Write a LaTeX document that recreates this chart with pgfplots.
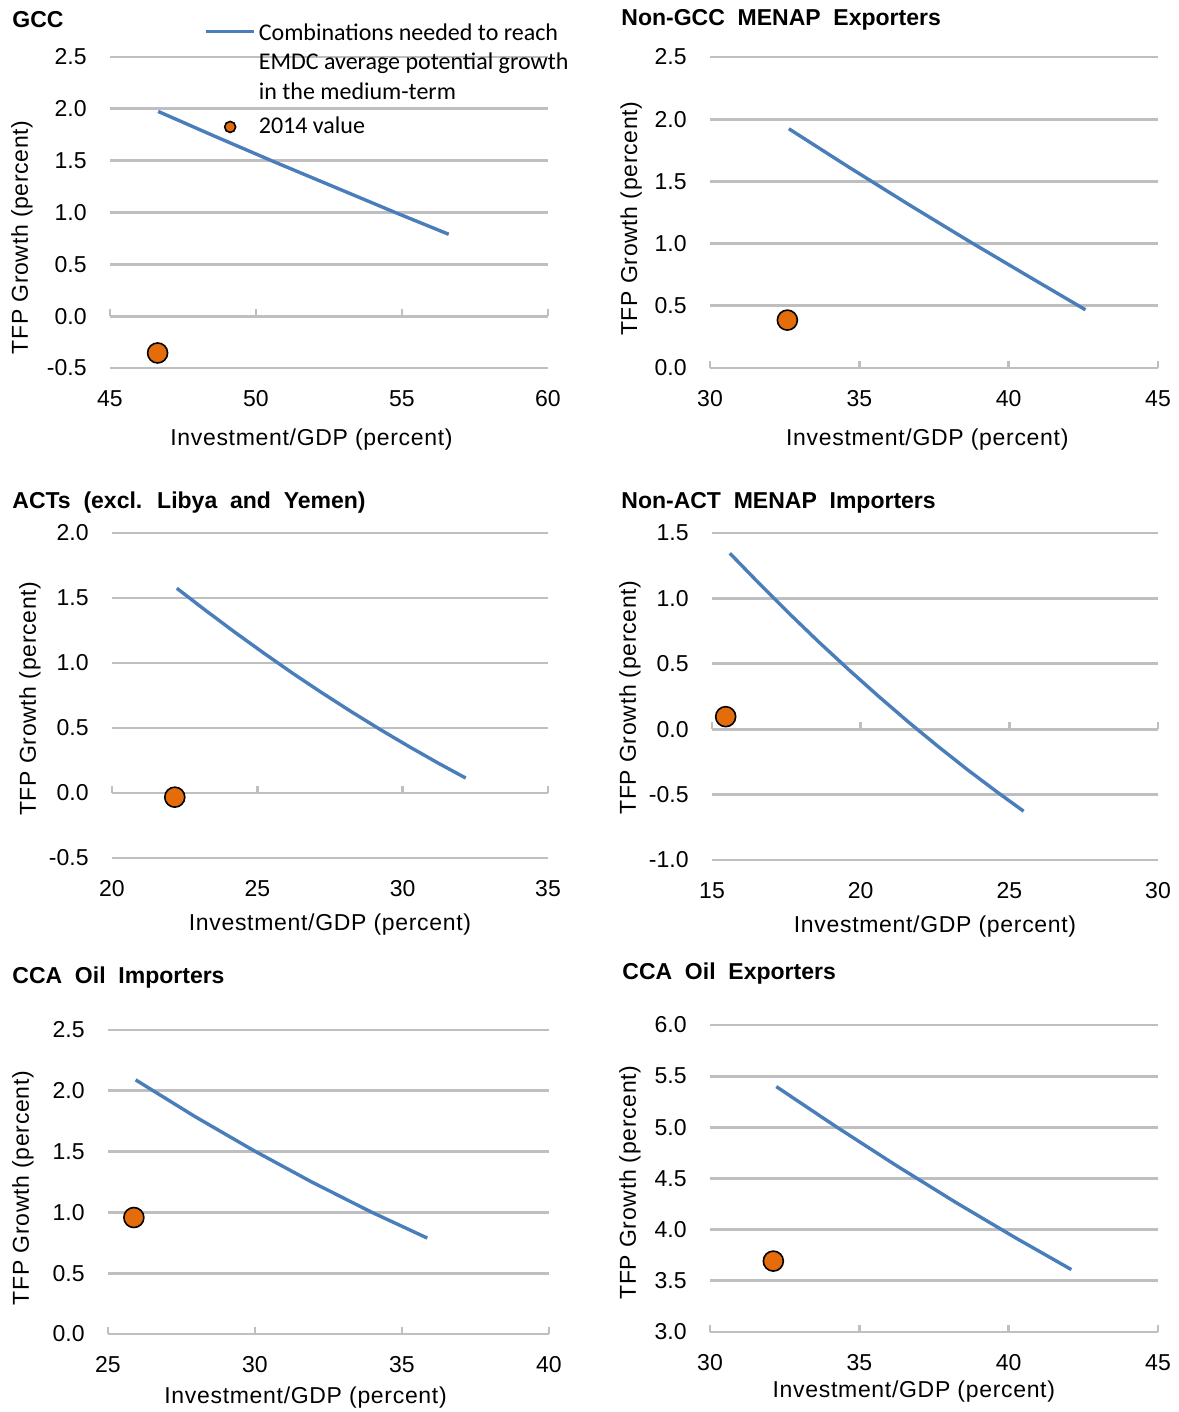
\documentclass[border=0pt]{standalone}
\usepackage{pgfplots}
\pgfplotsset{compat=1.18}
\usepackage{fontspec}
\setmainfont{Liberation Sans}
\newfontfamily\carlito{Carlito}
\newfontfamily\titlefont[WordSpace=2]{Liberation Sans}
\newfontfamily\labelfont[LetterSpace=3]{Liberation Sans}
\definecolor{gridgray}{HTML}{BFBFBF}
\definecolor{lineblue}{HTML}{4A7EBB}
\definecolor{dotorange}{HTML}{E46C0A}
\newcommand{\fs}{\fontsize{11.5}{13}\selectfont}
\newcommand{\ttl}{\titlefont\bfseries\fontsize{11.5}{13}\selectfont}
\tikzset{xax/.style={gridgray, line width=1.4pt}}
\pgfplotsset{
  panel/.style={
    scale only axis,
    axis line style={draw=none},
    major tick length=0pt,
    tick style={draw=none},
    ymajorgrids,
    grid style={line width=1.4pt, color=gridgray},
    clip=false,
    /pgf/number format/assume math mode=true,
    tick label style={font=\fs},
    label style={font=\labelfont\fontsize{11.5}{13}\selectfont},
    yticklabel style={inner sep=0pt, anchor=east, xshift=-11.5pt,
      /pgf/number format/fixed, /pgf/number format/fixed zerofill, /pgf/number format/precision=1},
    xticklabel style={inner sep=0pt, anchor=center, yshift=-15.5pt},
    xlabel={Investment/GDP (percent)},
    ylabel={TFP Growth (percent)},
  },
  curve/.style={color=lineblue, line width=1.7pt, no markers, line join=round,
    legend image code/.code={\draw[##1] (0pt,0pt) -- (24pt,0pt);}},
  dot/.style={only marks, mark=*, mark size=5pt, mark options={fill=dotorange, draw=black, line width=0.8pt},
    legend image code/.code={\draw[##1, mark size=2.75pt] plot coordinates {(12pt,0pt)};}},
}
\begin{document}
\begin{tikzpicture}
\useasboundingbox (0,0) rectangle (589pt,-706pt);

% titles
\node[anchor=west, font=\ttl, inner sep=0pt] at (6pt,-10pt) {GCC};
\node[anchor=west, font=\ttl, inner sep=0pt] at (310.5pt,-10pt) {Non-GCC MENAP Exporters};
\node[anchor=west, font=\ttl, inner sep=0pt] at (6pt,-251.5pt) {ACTs (excl. Libya and Yemen)};
\node[anchor=west, font=\ttl, inner sep=0pt] at (310.5pt,-251.5pt) {Non-ACT MENAP Importers};
\node[anchor=west, font=\ttl, inner sep=0pt] at (6pt,-489pt) {CCA Oil Importers};
\node[anchor=west, font=\ttl, inner sep=0pt] at (311pt,-487pt) {CCA Oil Exporters};

% Panel 1: GCC
\begin{axis}[panel, at={(55pt,-184pt)}, anchor=south west, width=219pt, height=155.5pt,
  xmin=45, xmax=60, ymin=-0.5, ymax=2.5, xtick={45,50,55,60}, ytick={-0.5,0,0.5,1,1.5,2,2.5},
  xlabel style={at={(axis description cs:0.46,-0.2315)}, anchor=center},
  ylabel style={at={(axis description cs:-0.201,0.42)}, anchor=center},
  legend cell align=left,
  legend style={at={(rel axis cs:0.2147,1.122)}, anchor=north west, draw=none, fill=none,
    inner sep=0pt, column sep=1.5pt, row sep=37pt, font=\carlito\fontsize{12}{14.75}\selectfont,
    nodes={inner sep=0pt}},
]
\draw[xax] (axis cs:45,0) -- (axis cs:60,0);
\draw[xax] (axis cs:45,0) -- ++(0pt,3.5pt);
\draw[xax] (axis cs:50,0) -- ++(0pt,3.5pt);
\draw[xax] (axis cs:55,0) -- ++(0pt,3.5pt);
\draw[xax] (axis cs:60,0) -- ++(0pt,3.5pt);
\addplot[curve] coordinates {(46.65,1.975) (48.6,1.734) (50.53,1.5) (52.65,1.25) (54.77,1.0) (56.6,0.79)};
\addlegendentry{\begin{tabular}[t]{@{}l@{}}Combinations needed to reach\\EMDC average potential growth\\in the medium-term\end{tabular}}
\addplot[dot] coordinates {(46.63,-0.355)};
\addlegendentry{2014 value}
\end{axis}

% Panel 2: Non-GCC MENAP Exporters
\begin{axis}[panel, at={(355pt,-184pt)}, anchor=south west, width=224pt, height=155.5pt,
  xmin=30, xmax=45, ymin=0, ymax=2.5, xtick={30,35,40,45}, ytick={0,0.5,1,1.5,2,2.5},
  xlabel style={at={(axis description cs:0.485,-0.2315)}, anchor=center},
  ylabel style={at={(axis description cs:-0.176,0.48)}, anchor=center},
]
\draw[xax] (axis cs:30,0) -- (axis cs:45,0);
\draw[xax] (axis cs:30,0) -- ++(0pt,3.5pt);
\draw[xax] (axis cs:35,0) -- ++(0pt,3.5pt);
\draw[xax] (axis cs:40,0) -- ++(0pt,3.5pt);
\draw[xax] (axis cs:45,0) -- ++(0pt,3.5pt);
\addplot[curve] coordinates {(32.64,1.923) (34.64,1.616) (36.64,1.316) (38.64,1.024) (40.64,0.740) (42.57,0.468)};
\addplot[dot] coordinates {(32.59,0.385)};
\end{axis}

% Panel 3: ACTs
\begin{axis}[panel, at={(56pt,-429pt)}, anchor=south west, width=218pt, height=162.5pt,
  xmin=20, xmax=35, ymin=-0.5, ymax=2.0, xtick={20,25,30,35}, ytick={-0.5,0,0.5,1,1.5,2},
  xlabel style={at={(axis description cs:0.5,-0.206)}, anchor=center},
  ylabel style={at={(axis description cs:-0.188,0.49)}, anchor=center},
]
\draw[xax] (axis cs:20,0) -- (axis cs:35,0);
\draw[xax] (axis cs:20,0) -- ++(0pt,3.5pt);
\draw[xax] (axis cs:25,0) -- ++(0pt,3.5pt);
\draw[xax] (axis cs:30,0) -- ++(0pt,3.5pt);
\draw[xax] (axis cs:35,0) -- ++(0pt,3.5pt);
\addplot[curve] coordinates {(22.23,1.575) (23.23,1.403) (24.23,1.236) (25.23,1.075) (26.23,0.919) (27.23,0.770) (28.23,0.626) (29.23,0.488) (30.23,0.356) (31.23,0.229) (32.17,0.115)};
\addplot[dot] coordinates {(22.16,-0.032)};
\end{axis}

% Panel 4: Non-ACT MENAP Importers
\begin{axis}[panel, at={(356pt,-430pt)}, anchor=south west, width=223pt, height=163.5pt,
  xmin=15, xmax=30, ymin=-1.0, ymax=1.5, xtick={15,20,25,30}, ytick={-1,-0.5,0,0.5,1,1.5},
  xlabel style={at={(axis description cs:0.5,-0.205)}, anchor=center},
  ylabel style={at={(axis description cs:-0.184,0.497)}, anchor=center},
]
\draw[xax] (axis cs:15,0) -- (axis cs:30,0);
\draw[xax] (axis cs:15,0) -- ++(0pt,3.5pt);
\draw[xax] (axis cs:20,0) -- ++(0pt,3.5pt);
\draw[xax] (axis cs:25,0) -- ++(0pt,3.5pt);
\draw[xax] (axis cs:30,0) -- ++(0pt,3.5pt);
\addplot[curve] coordinates {(15.6,1.345) (16.6,1.111) (17.6,0.884) (18.6,0.665) (19.6,0.455) (20.6,0.252) (21.6,0.056) (22.6,-0.131) (23.6,-0.311) (24.6,-0.482) (25.48,-0.627)};
\addplot[dot] coordinates {(15.46,0.096)};
\end{axis}

% Panel 5: CCA Oil Importers
\begin{axis}[panel, at={(54pt,-667pt)}, anchor=south west, width=220.5pt, height=152pt,
  xmin=25, xmax=40, ymin=0, ymax=2.5, xtick={25,30,35,40}, ytick={0,0.5,1,1.5,2,2.5},
  xlabel style={at={(axis description cs:0.448,-0.21)}, anchor=center},
  ylabel style={at={(axis description cs:-0.193,0.48)}, anchor=center},
]
\draw[xax] (axis cs:25,0) -- (axis cs:40,0);
\draw[xax] (axis cs:25,0) -- ++(0pt,3.5pt);
\draw[xax] (axis cs:30,0) -- ++(0pt,3.5pt);
\draw[xax] (axis cs:35,0) -- ++(0pt,3.5pt);
\draw[xax] (axis cs:40,0) -- ++(0pt,3.5pt);
\addplot[curve] coordinates {(25.94,2.09) (27.94,1.791) (29.94,1.511) (31.94,1.249) (33.94,1.005) (35.86,0.789)};
\addplot[dot] coordinates {(25.88,0.958)};
\end{axis}

% Panel 6: CCA Oil Exporters
\begin{axis}[panel, at={(355pt,-666pt)}, anchor=south west, width=224pt, height=153.5pt,
  xmin=30, xmax=45, ymin=3.0, ymax=6.0, xtick={30,35,40,45}, ytick={3,3.5,4,4.5,5,5.5,6},
  xlabel style={at={(axis description cs:0.455,-0.195)}, anchor=center},
  ylabel style={at={(axis description cs:-0.179,0.487)}, anchor=center},
]
\draw[xax] (axis cs:30,3) -- (axis cs:45,3);
\draw[xax] (axis cs:30,3) -- ++(0pt,3.5pt);
\draw[xax] (axis cs:35,3) -- ++(0pt,3.5pt);
\draw[xax] (axis cs:40,3) -- ++(0pt,3.5pt);
\draw[xax] (axis cs:45,3) -- ++(0pt,3.5pt);
\addplot[curve] coordinates {(32.22,5.398) (34.22,5.007) (36.22,4.630) (38.22,4.268) (40.22,3.922) (42.1,3.61)};
\addplot[dot] coordinates {(32.12,3.693)};
\end{axis}
\end{tikzpicture}
\end{document}
